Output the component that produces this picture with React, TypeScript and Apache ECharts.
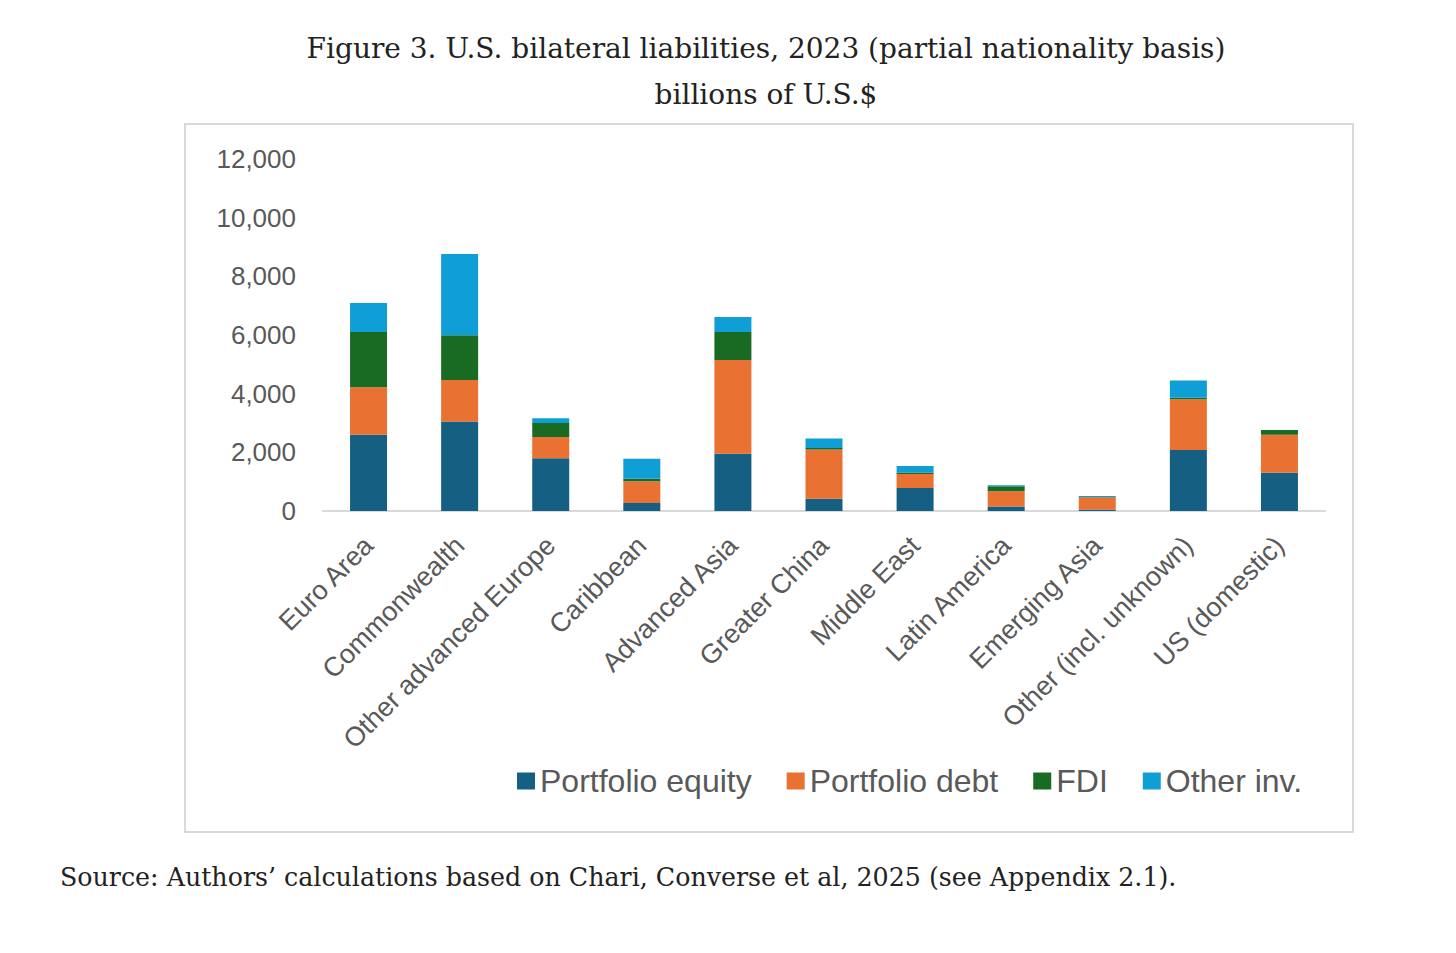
import React, { useEffect, useRef } from "react";
import * as echarts from "echarts";

const categories = [
  "Euro Area",
  "Commonwealth",
  "Other advanced Europe",
  "Caribbean",
  "Advanced Asia",
  "Greater China",
  "Middle East",
  "Latin America",
  "Emerging Asia",
  "Other (incl. unknown)",
  "US (domestic)",
];
const portfolioEquity = [2600, 3050, 1800, 270, 1950, 420, 780, 150, 50, 2080, 1300];
const portfolioDebt = [1620, 1420, 720, 740, 3200, 1680, 480, 520, 420, 1730, 1300];
const fdi = [1880, 1520, 480, 90, 950, 50, 50, 170, 10, 50, 160];
const otherInv = [990, 2770, 160, 680, 510, 320, 220, 35, 35, 590, 0];
const yTicks = [0, 2000, 4000, 6000, 8000, 10000, 12000];

const seriesDefs = [
  { name: "Portfolio equity", data: portfolioEquity, color: "#156082" },
  { name: "Portfolio debt", data: portfolioDebt, color: "#E97132" },
  { name: "FDI", data: fdi, color: "#196B24" },
  { name: "Other inv.", data: otherInv, color: "#0F9ED5" },
];

const serif = "'DejaVu Serif', 'Liberation Serif', serif";
const sans = "'Liberation Sans', Arial, sans-serif";

export default function App() {
  const ref = useRef<HTMLDivElement>(null);
  useEffect(() => {
    if (!ref.current) return;
    const chart = echarts.init(ref.current, undefined, { renderer: "svg" });
    chart.setOption({
      animation: false,
      backgroundColor: "#ffffff",
      grid: { left: 323, right: 131, top: 159, bottom: 442, containLabel: false },
      xAxis: {
        type: "category",
        data: categories,
        axisLine: { show: true, lineStyle: { color: "#d9d9d9", width: 2 } },
        axisTick: { show: false },
        axisLabel: {
          rotate: 45,
          interval: 0,
          margin: 30,
          color: "#595959",
          fontSize: 27,
          fontFamily: sans,
        },
      },
      yAxis: {
        type: "value",
        min: 0,
        max: 12000,
        interval: 2000,
        axisLine: { show: false },
        axisTick: { show: false },
        splitLine: { show: false },
        axisLabel: {
          margin: 27,
          color: "#595959",
          fontSize: 26,
          fontFamily: sans,
          formatter: (v: number) => (yTicks.includes(v) ? v.toLocaleString("en-US") : ""),
        },
      },
      legend: {
        left: 517,
        top: 765,
        padding: 0,
        itemWidth: 18,
        itemHeight: 17,
        itemGap: 35,
        icon: "rect",
        textStyle: { color: "#595959", fontSize: 32, fontFamily: sans },
        data: seriesDefs.map((s) => s.name),
      },
      series: seriesDefs.map((s) => ({
        name: s.name,
        type: "bar",
        stack: "total",
        barWidth: 37,
        data: s.data,
        itemStyle: { color: s.color },
      })),
      graphic: [
        {
          type: "rect",
          shape: { x: 185, y: 124, width: 1168, height: 708 },
          style: { fill: "none", stroke: "#d9d9d9", lineWidth: 2 },
          silent: true,
        },
        {
          type: "text",
          x: 766,
          y: 48,
          style: {
            text: "Figure 3. U.S. bilateral liabilities, 2023 (partial nationality basis)",
            fill: "#222222",
            font: `28px ${serif}`,
            textAlign: "center",
            textVerticalAlign: "middle",
          },
        },
        {
          type: "text",
          x: 766,
          y: 94,
          style: {
            text: "billions of U.S.$",
            fill: "#222222",
            font: `28px ${serif}`,
            textAlign: "center",
            textVerticalAlign: "middle",
          },
        },
        {
          type: "text",
          x: 60,
          y: 877,
          style: {
            text: "Source: Authors\u2019 calculations based on Chari, Converse et al, 2025 (see Appendix 2.1).",
            fill: "#222222",
            font: `25.3px ${serif}`,
            textAlign: "left",
            textVerticalAlign: "middle",
          },
        },
      ],
    });
    return () => chart.dispose();
  }, []);
  return (
    <div
      ref={ref}
      style={{ position: "absolute", left: 0, top: 0, width: 1456, height: 953 }}
    />
  );
}
